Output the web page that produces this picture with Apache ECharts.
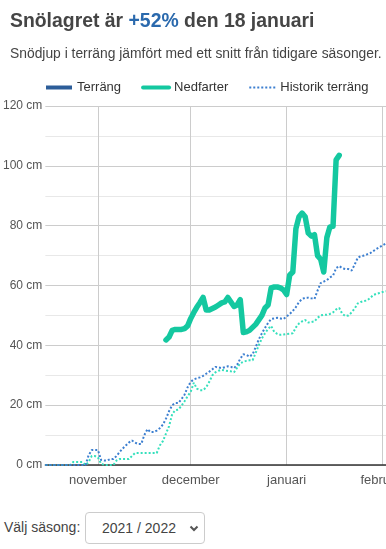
<!DOCTYPE html>
<html>
<head>
<meta charset="utf-8">
<script src="https://cdn.jsdelivr.net/npm/echarts@6/dist/echarts.min.js"></script>
<style>
  html, body { margin: 0; padding: 0; background: #fff; overflow: hidden; width: 386px; height: 549px; }
  #chart { position: absolute; left: 0; top: 0; width: 442px; height: 500px; }
  #season { position: absolute; left: 0; top: 512px; height: 32px; font-family: "Liberation Sans", Arial, sans-serif; font-size: 14px; color: #444; }
  #season .lbl { position: absolute; left: 4px; top: 7px; white-space: nowrap; }
  #season .box { position: absolute; left: 85px; top: 0; width: 118px; height: 30px; border: 1px solid #ccc; border-radius: 4px; background: #fff; }
  #season .val { position: absolute; left: 16px; top: 7px; white-space: nowrap; color: #444; }
  #season svg { position: absolute; left: 103px; top: 12px; }
</style>
</head>
<body>
<div id="chart"></div>
<div id="season">
  <span class="lbl">Välj säsong:</span>
  <div class="box"><span class="val">2021 / 2022</span>
    <svg width="10" height="7" viewBox="0 0 10 7"><path d="M1.5 1.5 L5 5 L8.5 1.5" fill="none" stroke="#555" stroke-width="2"/></svg>
  </div>
</div>
<script>
// ---- data ----
const startDate = [2021, 9, 15];   // 15 Oct 2021 (month index 0-based)
const dayCount = 126;
const monthNames = ['januari','februari','mars','april','maj','juni','juli','augusti','september','oktober','november','december'];
const yTicks = [0, 20, 40, 60, 80, 100, 120];

const terrang = []; // no values shown
const nedfarterStart = '2021-11-23';
const nedfarter = [41.8, 42.8, 45, 45.3, 45.3, 45.3, 45.6, 46.5, 49, 51, 52.8, 54.3, 56, 51.8, 51.8, 52.3, 52.8, 53.5, 54.2, 54.5,
  56, 54.5, 53, 53.5, 55.3, 44.3, 44.5, 45, 46, 47, 48.5, 50, 52.5, 53.5, 59.2, 59.5, 59.5, 59.2, 58.5, 57,
  63.5, 64.5, 79, 83, 84.2, 83, 77.5, 76.5, 77, 70, 68.8, 64.5, 76, 79.6, 79.8, 102, 103.5];

const historikTerrang = [0, 0, 0, 0, 0, 0, 0, 0, 0, 0, 0, 0, 0, 0,
  3.3, 5, 5, 5, 1.7, 1.5, 1.5, 2, 2, 3, 4.3, 5.5, 6.5, 7.5, 8.2, 7.5, 7, 7, 10, 12, 11, 11, 11.5, 12.3, 13.5, 15.5,
  18, 20, 20.7, 20.7, 22, 23.5, 26, 27.8, 28.6, 29, 29.3, 29.8, 30.5, 31.2, 32, 32.8, 32.6, 32.4, 32.7, 33,
  32.8, 32.4, 33.5, 35.5, 37, 36.8, 36.2, 37, 39.4, 42, 44, 45.8, 47.5, 48.8, 49, 49.2, 49, 48.8, 49.6, 50.5,
  51.5, 52.8, 54.5, 55.5, 55.9, 55.9, 55.7, 55.5, 58.3, 60.8, 61.3, 61.8, 62.7, 63.3, 65.8, 66.5, 65.8, 65.5, 65.5, 65,
  67, 69.3, 69.8, 70, 70.4, 70.8, 71.5, 72.2, 72.8, 73.4, 74, 74.5, 75];

const historikNedfarter = [0, 0, 0, 0, 0, 0, 0, 0, 0, 1, 1, 1, 1, 0, 1, 3, 3, 2.5, 0.5, 0,
  0, 0, 0, 1.5, 2, 2, 2, 2, 3, 4, 4, 4, 4, 4, 4, 4, 4, 6.5, 8, 10.5,
  13, 17, 18.3, 18.5, 19.8, 21.3, 23, 24.5, 27.5, 25.5, 25, 25, 26, 27.8, 30, 31, 31.5, 31.8, 31.6, 31.4,
  31.3, 31, 32.5, 34, 34.5, 34.8, 35, 35, 37.5, 40, 42.3, 44, 45.5, 46.5, 44.5, 43.8, 43.5, 43.6, 43.8, 43.9,
  44, 46, 47.3, 48, 48.5, 47.6, 47.8, 48, 49.2, 50, 50.2, 50.2, 50.5, 51, 52, 52.5, 50.5, 49.8, 50, 51,
  52.3, 54, 54.5, 54.8, 55, 55.8, 56.8, 57.2, 57.5, 57.8, 58, 58.3, 58.5];

// ---- build ----
const pad = n => (n < 10 ? '0' : '') + n;
const categories = [];
for (let i = 0; i < dayCount; i++) {
  const d = new Date(Date.UTC(startDate[0], startDate[1], startDate[2] + i));
  categories.push(d.getUTCFullYear() + '-' + pad(d.getUTCMonth() + 1) + '-' + pad(d.getUTCDate()));
}
const nedIdx = categories.indexOf(nedfarterStart);
const alignFrom = (arr, start) => categories.map((c, i) => (i >= start && i - start < arr.length) ? arr[i - start] : null);
const isMonthStart = (i, v) => v.slice(8) === '01';

const FONT = '"Liberation Sans", Arial, sans-serif';
const chart = echarts.init(document.getElementById('chart'), null, { renderer: 'canvas' });
chart.setOption({
  animation: false,
  backgroundColor: '#fff',
  textStyle: { fontFamily: FONT },
  title: [{
    left: 5, top: 5,
    text: '{a|Snölagret är }{b|+52%}{a| den 18 januari}',
    textStyle: {
      rich: {
        a: { fontFamily: FONT, fontSize: 19.4, fontWeight: 'bold', color: '#454545', lineHeight: 24 },
        b: { fontFamily: FONT, fontSize: 19.4, fontWeight: 'bold', color: '#2a69ad', lineHeight: 24 }
      }
    }
  }, {
    left: 5, top: 40,
    text: 'Snödjup i terräng jämfört med ett snitt från tidigare säsonger.',
    textStyle: { fontFamily: FONT, fontSize: 13.85, fontWeight: 'normal', color: '#444', lineHeight: 18 }
  }],
  legend: {
    left: 44, top: 81, padding: 0,
    itemWidth: 26, itemHeight: 14, itemGap: 20,
    textStyle: { fontFamily: FONT, fontSize: 13, color: '#333' },
    itemStyle: { opacity: 0 },
    data: [
      { name: 'Terräng', lineStyle: { width: 4 }, itemStyle: { opacity: 0 } },
      { name: 'Nedfarter', lineStyle: { width: 4 }, itemStyle: { opacity: 0 } },
      { name: 'Historik terräng', lineStyle: { width: 2 }, itemStyle: { opacity: 0 } }
    ]
  },
  grid: { left: 44, top: 106, width: 388, height: 359, containLabel: false },
  xAxis: {
    type: 'category',
    data: categories,
    boundaryGap: false,
    axisLine: { show: true, lineStyle: { color: '#333', width: 1.5 } },
    axisTick: { show: false },
    axisLabel: {
      interval: isMonthStart,
      formatter: v => monthNames[parseInt(v.slice(5, 7), 10) - 1],
      fontFamily: FONT, fontSize: 13, color: '#555', margin: 9
    },
    splitLine: { show: true, interval: isMonthStart, lineStyle: { color: '#ccc', width: 1 } }
  },
  yAxis: {
    type: 'value',
    min: yTicks[0], max: yTicks[yTicks.length - 1], interval: 20,
    axisLine: { show: false },
    axisTick: { show: false },
    axisLabel: { formatter: '{value} cm', fontFamily: FONT, fontSize: 12, color: '#555', margin: 3 },
    splitLine: { show: true, lineStyle: { color: '#ccc', width: 1 } },
    minorTick: { show: false, splitNumber: 2 },
    minorSplitLine: { show: true, lineStyle: { color: '#e8e8e8', width: 1 } }
  },
  series: [
    { name: 'Terräng', type: 'line', data: alignFrom(terrang, 0), symbol: 'none', color: '#2c5d99',
      lineStyle: { width: 4, color: '#2c5d99' }, z: 5 },
    { name: 'Historik nedfarter', type: 'line', data: alignFrom(historikNedfarter, 0), symbol: 'none', color: '#35e0bc',
      lineStyle: { width: 2, type: [2, 2], color: '#35e0bc' }, z: 2 },
    { name: 'Historik terräng', type: 'line', data: alignFrom(historikTerrang, 0), symbol: 'none', color: '#3c7fd0',
      lineStyle: { width: 2, type: [2, 2], color: '#3c7fd0' }, z: 3 },
    { name: 'Nedfarter', type: 'line', data: alignFrom(nedfarter, nedIdx), symbol: 'none', color: '#14c8a0',
      lineStyle: { width: 5.5, color: '#14c8a0', cap: 'round', join: 'round' }, z: 6 }
  ]
});
</script>
</body>
</html>
